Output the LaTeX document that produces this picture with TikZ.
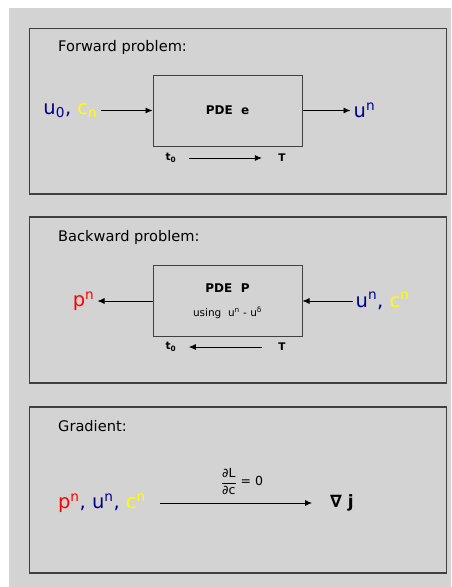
\documentclass[tikz,border=0pt]{standalone}
\usepackage{fontspec}
\setmainfont{DejaVu Sans}
\usetikzlibrary{arrows.meta,positioning}
\definecolor{navy}{RGB}{0,0,139}
\definecolor{lemon}{RGB}{255,255,0}
\definecolor{panelgray}{RGB}{211,211,211}
\definecolor{edgegray}{RGB}{64,64,64}

\begin{document}
\begin{tikzpicture}[x=1pt, y=-1pt, node distance=52pt,
			panel/.style={draw=edgegray, line width=1.2pt},
			pde/.style={draw=edgegray, line width=1pt, minimum width=149pt, minimum height=71pt, align=center, font=\fontsize{12}{14}\selectfont},
			title/.style={anchor=west, inner sep=0pt, font=\fontsize{14.6}{17}\selectfont},
			var/.style={inner sep=3pt, font=\fontsize{19.5}{22}\selectfont},
			tl/.style={font=\fontsize{10.5}{12}\selectfont\bfseries},
			flow/.style={-{Latex[length=7pt,width=6pt]}, line width=0.8pt}]
	\useasboundingbox (0,0) rectangle (451,587);
	\fill[panelgray] (9,8) rectangle (451,587);

	% forward problem
	\draw[panel] (29.5,28.5) rectangle (446.5,194);
	\node[title] (fwd) at (58,47) {Forward problem:};
	\node[pde] (pdef) at (227.5,110.5) {\textbf{PDE\ \ e}};
	\node[var, left=of pdef] (inf) {\color{navy}u\textsubscript{0}, \color{lemon}c\textsubscript{n}};
	\node[var, right=48pt of pdef] (outf) {\color{navy}u\textsuperscript{n}};
	\node[tl] (t0f) at (171,158) {t\textsubscript{0}};
	\node[tl] (Tf) at (282,158) {T};
	\draw[flow] (inf) -- (pdef);
	\draw[flow] (pdef) -- (outf);
	\draw[flow, shorten <=9pt, shorten >=13pt] (t0f) -- (Tf);

	% backward problem
	\draw[panel] (29.5,217) rectangle (446.5,383);
	\node[title] (bwd) at (58,237) {Backward problem:};
	\node[pde] (pdeb) at (227.5,301) {\textbf{PDE\ \ P}\\[10pt]{\fontsize{10.5}{12}\selectfont using\ \ u\textsuperscript{n} - u\textsuperscript{δ}}};
	\node[var, left=55pt of pdeb] (outb) {\color{red}p\textsuperscript{n}};
	\node[var, right=50pt of pdeb] (inb) {\color{navy}u\textsuperscript{n}, \color{lemon}c\textsuperscript{n}};
	\node[tl] (t0b) at (171,347) {t\textsubscript{0}};
	\node[tl] (Tb) at (282,347) {T};
	\draw[flow] (inb) -- (pdeb);
	\draw[flow] (pdeb) -- (outb);
	\draw[flow, shorten <=13pt, shorten >=9pt] (Tb) -- (t0b);

	% gradient
	\draw[panel] (29.5,407) rectangle (446.5,573);
	\node[title] (grd) at (58,426) {Gradient:};
	\node[var, anchor=east] (gin) at (149,503) {\color{red}p\textsuperscript{n}\color{navy}, u\textsuperscript{n}, \color{lemon}c\textsuperscript{n}};
	\node[var, font=\fontsize{17}{20}\selectfont\bfseries] (gout) at (342,503) {∇ j};
	\draw[flow, shorten <=11pt, shorten >=15pt] (gin) -- node[above=5pt, xshift=4pt, font=\fontsize{12.5}{14}\selectfont] (dldc) {$\displaystyle\frac{\hbox{∂L}}{\hbox{∂c}}$ = 0} (gout);
\end{tikzpicture}
\end{document}
